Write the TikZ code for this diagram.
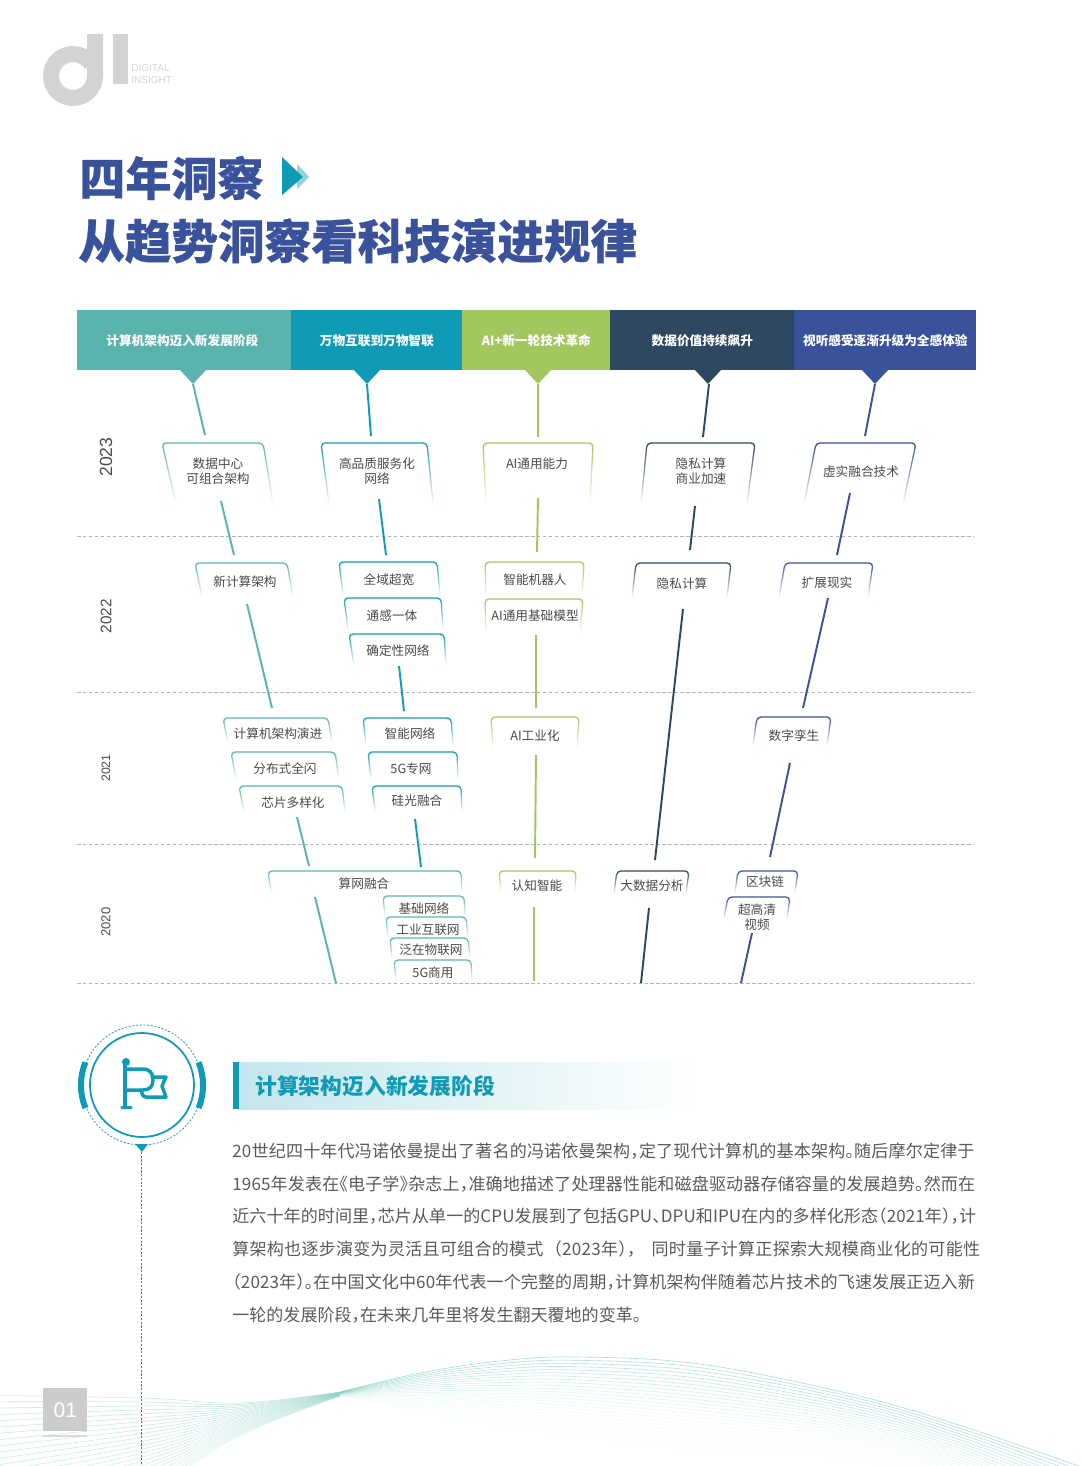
\documentclass[tikz,border=0pt]{standalone}
\usepackage{fontspec}
\setmainfont{Noto Sans CJK SC}
\newfontfamily\latinfont{Liberation Sans}
\newfontfamily\bodyfont{Noto Sans CJK SC}[RawFeature=+halt]
\newfontfamily\titlefont{Noto Sans CJK SC}[BoldFeatures={FakeBold=0.5}]
\usetikzlibrary{fadings}

\definecolor{colA}{HTML}{5BB3AE}
\definecolor{colB}{HTML}{0F9BB5}
\definecolor{colC}{HTML}{A2C75E}
\definecolor{colD}{HTML}{2E4862}
\definecolor{colE}{HTML}{3A519B}
\definecolor{inktext}{HTML}{4A4A4A}
\definecolor{bodyink}{HTML}{5A5A5A}
\definecolor{logogray}{HTML}{D2D3D5}
\definecolor{wavecol}{HTML}{6CC4B4}

\newcommand{\card}[9]{%
  \draw[cardedge,draw=#2,path fading=south] (#6,#8) -- (#3,#5) -- (#4,#5) -- (#7,#8);
  \node[cardtext] (#1) at (#9)}
\newcommand{\link}[4]{%
  \coordinate (#2s) at (#3);
  \coordinate (#2e) at (#4);
  \draw[linkline,draw=#1] (#2s) -- (#2e);}

\begin{document}
\begin{tikzpicture}[
  x=0.02cm,y=-0.02cm,
  band/.style={anchor=north west,inner sep=0pt,minimum height=1.2cm,text=white,
    font=\fontsize{7.2}{9}\selectfont\bfseries},
  cardedge/.style={line width=0.75pt,rounded corners=0.08cm},
  cardtext/.style={align=center,inner sep=0pt,text=inktext,
    font=\fontsize{7.2}{8.6}\selectfont},
  linkline/.style={line width=1.1pt},
  yearlab/.style={rotate=90,inner sep=0pt,text=inktext},
  yearrule/.style={draw=black!30,line width=0.4pt,dash pattern=on 2pt off 1.4pt},
  bodytext/.style={anchor=west,inner sep=0pt,text=bodyink,font=\bodyfont\fontsize{9.7}{12}\selectfont},
  wave/.style={draw=wavecol,line width=0.35pt}
]
  \useasboundingbox (0,0) rectangle (1080,1466);

  % wave
  \foreach \t in {0,1,...,24}{
    \pgfmathsetmacro{\s}{\t/24}
    \pgfmathsetmacro{\opl}{0.38-0.12*\s}
    \pgfmathsetmacro{\opr}{0.55*(1-\s)*(1-\s)+0.03}
    \draw[wave,opacity=\opl] plot[smooth,tension=0.6] coordinates {
      (-40,{1395+165*\s}) (141,{1398+95*\s}) (240,{1403+32*\s}) (340,{1392+4*\s})};
    \draw[wave,opacity=\opr] plot[smooth,tension=0.6] coordinates {
      (340,{1392+4*\s}) (420,{1373+39*\s}) (500,{1361+65*\s}) (575,{1357+78*\s})
      (700,{1364+86*\s}) (855,{1395+65*\s}) (965,{1427+70*\s}) (1090,{1470+90*\s})};
  }

  % logo
  \draw[draw=logogray,line width=0.32cm] (95,34) -- (95,76)
    arc[start angle=0,end angle=325,radius=22];
  \fill[logogray] (113,34) rectangle (128,84);
  \node[anchor=west,inner sep=0pt,text=logogray,font=\latinfont\fontsize{5.7}{7}\selectfont] (logoa) at (131,68) {DIGITAL};
  \node[anchor=west,inner sep=0pt,text=logogray,font=\latinfont\fontsize{5.7}{7}\selectfont] (logob) at (131,80) {INSIGHT};

  % title
  \node[anchor=west,inner sep=0pt,text=colE,font=\titlefont\fontsize{26.2}{30}\selectfont\bfseries] (titlea) at (79,178) {四年洞察};
  \node[anchor=west,inner sep=0pt,text=colE,font=\titlefont\fontsize{26.5}{30}\selectfont\bfseries] (titleb) at (78,241) {从趋势洞察看科技演进规律};
  \fill[colB!45] (297,164) -- (309,177) -- (297,189) -- cycle;
  \fill[colB] (282,157) -- (303,177) -- (282,195) -- cycle;

  % header bands
  \node[band,fill=colA,minimum width=4.28cm] (hdra) at (77,310) {\hspace*{-0.08cm}计算机架构迈入新发展阶段};
  \node[band,fill=colB,minimum width=3.42cm] (hdrb) at (291,310) {万物互联到万物智联};
  \node[band,fill=colC,minimum width=2.96cm] (hdrc) at (462,310) {AI+新一轮技术革命};
  \node[band,fill=colD,minimum width=3.68cm] (hdrd) at (610,310) {数据价值持续飙升};
  \node[band,fill=colE,minimum width=3.64cm] (hdre) at (794,310) {视听感受逐渐升级为全感体验};
  \foreach \colr/\tx in {colA/193,colB/367,colC/538,colD/708,colE/875}{
    \fill[\colr] ({\tx-13},370) -- ({\tx+13},370) -- (\tx,384) -- cycle;
  }

  % years
  \node[yearlab,font=\latinfont\fontsize{10}{12}\selectfont] (ya) at (106,457) {2023};
  \node[yearlab,font=\latinfont\fontsize{8.7}{12}\selectfont] (yb) at (106,616) {2022};
  \node[yearlab,font=\latinfont\fontsize{7}{12}\selectfont] (yc) at (106,768) {2021};
  \node[yearlab,font=\latinfont\fontsize{7.4}{12}\selectfont] (yd) at (106,922) {2020};
  \foreach \ry in {536,692,844,983}
    \draw[yearrule] (77,\ry) -- (974,\ry);

  % 2023
  \card{dc}{colA}{162}{263}{443}{176}{273}{504}{218,471} {数据中心\\可组合架构};
  \card{hq}{colB}{321}{427}{443}{329}{433}{504}{377,471} {高品质服务化\\网络};
  \card{ai}{colC}{483}{593}{443}{486}{590}{504}{537,464} {AI通用能力};
  \card{pc}{colD}{647}{755}{443}{641}{747}{504}{701,471} {隐私计算\\商业加速};
  \card{vr}{colE}{816}{916}{443}{804}{903}{504}{861,472} {虚实融合技术};
  % 2022
  \card{nc}{colA}{195}{287}{563}{202}{293}{597}{245,582} {新计算架构};
  \card{qy}{colB}{339}{437}{562}{343}{440}{595}{389,580} {全域超宽};
  \card{tg}{colB}{344}{441}{598}{348}{443}{630}{392,616} {通感一体};
  \card{qd}{colB}{349}{444}{634}{354}{446}{665}{398,651} {确定性网络};
  \card{rb}{colC}{485}{584}{562}{486}{582}{595}{535,580} {智能机器人};
  \card{jc}{colC}{485}{583}{599}{486}{580}{632}{535,616} {AI通用基础模型};
  \card{ys}{colD}{636}{731}{563}{632}{727}{597}{682,584} {隐私计算};
  \card{kz}{colE}{785}{873}{563}{779}{868}{597}{827,583} {扩展现实};
  % 2021
  \card{jy}{colA}{223}{328}{718}{228}{332}{743}{278,734} {计算机架构演进};
  \card{fb}{colA}{231}{335}{752}{236}{339}{779}{285,769} {分布式全闪};
  \card{xp}{colA}{239}{342}{786}{244}{345}{812}{293,803} {芯片多样化};
  \card{zn}{colB}{363}{451}{718}{366}{453}{745}{410,734} {智能网络};
  \card{zw}{colB}{368}{457}{752}{371}{458}{779}{411,769} {5G专网};
  \card{gg}{colB}{372}{461}{786}{375}{462}{811}{417,801} {硅光融合};
  \card{gy}{colC}{491}{579}{717}{493}{577}{748}{535,736} {AI工业化};
  \card{sz}{colE}{757}{831}{717}{753}{827}{745}{794,736} {数字孪生};
  % 2020
  \card{sw}{colA}{268}{461}{871}{271}{462}{892}{364,884} {算网融合};
  \card{jw}{colA}{383}{464}{896}{385}{465}{916}{424,909} {基础网络};
  \card{gl}{colA}{386}{466}{917}{388}{468}{937}{428,930} {工业互联网};
  \card{fz}{colA}{390}{468}{938}{392}{470}{958}{431,950} {泛在物联网};
  \card{sg}{colA}{394}{471}{960}{396}{472}{980}{433,973} {5G商用};
  \card{rz}{colC}{499}{576}{871}{501}{575}{892}{537,886} {认知智能};
  \card{dsj}{colD}{617}{689}{871}{614}{686}{893}{652,886} {大数据分析};
  \card{qk}{colE}{738}{798}{871}{735}{795}{892}{765,882} {区块链};
  \card{cg}{colE}{728}{790}{897}{724}{787}{918}{757,917} {超高清\\视频};

  % connectors
  \link{colA}{la1}{193,384}{205,435}
  \link{colA}{la2}{221,501}{234,555}
  \link{colA}{la3}{247,604}{272,708}
  \link{colA}{la4}{297,817}{309,866}
  \link{colA}{la5}{315,897}{336,983}
  \link{colB}{lb1}{367,384}{371,436}
  \link{colB}{lb2}{379,499}{386,555}
  \link{colB}{lb3}{399,666}{404,711}
  \link{colB}{lb4}{415,819}{421,867}
  \link{colC}{lc1}{538,384}{538,437}
  \link{colC}{lc2}{538,498}{537,552}
  \link{colC}{lc3}{536,635}{536,708}
  \link{colC}{lc4}{536,755}{535,858}
  \link{colC}{lc5}{534,907}{534,981}
  \link{colD}{ld1}{709,384}{703,437}
  \link{colD}{ld2}{695,506}{690,550}
  \link{colD}{ld3}{683,609}{655,860}
  \link{colD}{ld4}{649,908}{641,983}
  \link{colE}{le1}{875,384}{865,436}
  \link{colE}{le2}{850,493}{837,555}
  \link{colE}{le3}{828,598}{803,708}
  \link{colE}{le4}{790,763}{770,857}
  \link{colE}{le5}{752,933}{741,983}

  % emblem
  \draw[colB,line width=1pt] (142,1085) circle[radius=52];
  \draw[colB,line width=0.4pt,dash pattern=on 1.2pt off 0.9pt] (142,1085) circle[radius=60];
  \draw[colB,line width=0.12cm] (85.4,1108) arc[start angle=158,end angle=202,radius=61];
  \draw[colB,line width=0.12cm] (198.6,1108) arc[start angle=22,end angle=-22,radius=61];
  \fill[colB] (135,1144) -- (148,1144) -- (142,1152) -- cycle;
  \coordinate (stema) at (141,1152);
  \coordinate (stemb) at (141,1466);
  \draw[colB,line width=0.4pt,dash pattern=on 1.2pt off 0.9pt] (stema) -- (stemb);
  % flag
  \begin{scope}[colB,line width=0.07cm,line join=round,line cap=round]
    \fill (126,1062) circle[radius=4];
    \draw (125,1062) -- (125,1107);
    \draw (122,1107.5) -- (131,1107.5);
    \draw (125,1069) -- (142,1069) .. controls (150,1069) and (153,1073) .. (153,1080)
      .. controls (153,1087) and (149,1090) .. (143,1090) -- (125,1090);
    \draw (152,1077) -- (166,1077) -- (162,1086) -- (166,1097) -- (146,1097)
      .. controls (143,1097) and (142,1094) .. (141,1090);
  \end{scope}

  % section head
  \fill[colB] (233,1062) rectangle (239,1109);
  \shade[left color=colB!25,right color=white] (239,1062) rectangle (700,1109);
  \node[anchor=west,inner sep=0pt,text=colB,font=\fontsize{12.4}{14}\selectfont\bfseries] (sechead) at (255,1086) {计算架构迈入新发展阶段};

  % body text
  \node[bodytext] (ta) at (232,1151) {\addfontfeature{LetterSpace=1.0}20世纪四十年代冯诺依曼提出了著名的冯诺依曼架构，定了现代计算机的基本架构。随后摩尔定律于};
  \node[bodytext] (tb) at (232,1184) {\addfontfeature{LetterSpace=0.8}1965年发表在《电子学》杂志上，准确地描述了处理器性能和磁盘驱动器存储容量的发展趋势。然而在};
  \node[bodytext] (tc) at (232,1216) {\addfontfeature{LetterSpace=0.4}近六十年的时间里，芯片从单一的CPU发展到了包括GPU、DPU和IPU在内的多样化形态（2021年），计};
  \node[bodytext] (td) at (232,1249) {\addfontfeature{LetterSpace=1.5}算架构也逐步演变为灵活且可组合的模式\hspace{0.2cm}（2023年），\hspace{0.32cm}同时量子计算正探索大规模商业化的可能性};
  \node[bodytext] (te) at (232,1282) {\addfontfeature{LetterSpace=0.5}（2023年）。在中国文化中60年代表一个完整的周期，计算机架构伴随着芯片技术的飞速发展正迈入新};
  \node[bodytext] (tf) at (232,1315) {一轮的发展阶段，在未来几年里将发生翻天覆地的变革。};

  % page number
  \node[anchor=north west,inner sep=0pt,fill=black!20,minimum width=0.88cm,minimum height=0.86cm,text=white,font=\latinfont\fontsize{12}{14}\selectfont] (pagenum) at (43,1388) {01};
  \fill[black!15] (43,1435) rectangle (87,1437);
\end{tikzpicture}
\end{document}
